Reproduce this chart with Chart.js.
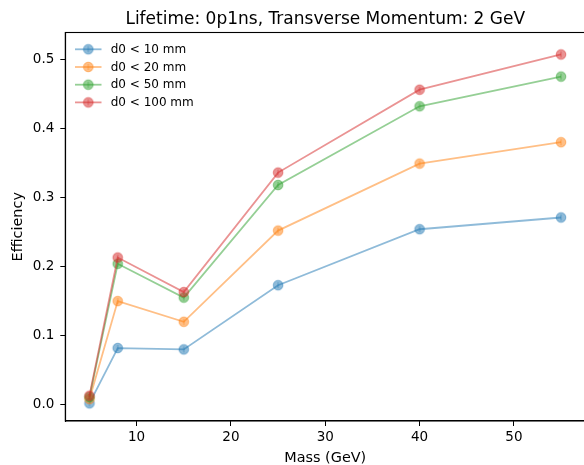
<!DOCTYPE html>
<html>
<head>
<meta charset="utf-8">
<script src="https://cdn.jsdelivr.net/npm/chart.js@4/dist/chart.umd.min.js"></script>
<style>
  html, body { margin: 0; padding: 0; background: #fff; overflow: hidden; }
  #wrap { position: relative; width: 592px; height: 465px; }
</style>
</head>
<body>
<div id="wrap"><canvas id="c" width="592" height="465"></canvas></div>
<script>
// Signal masses (GeV) and reconstruction efficiency for each d0 cut
const masses = [5, 8, 15, 25, 40, 55];
const seriesNames = ['d0 < 10 mm', 'd0 < 20 mm', 'd0 < 50 mm', 'd0 < 100 mm'];
const effD0lt10  = [0.002, 0.082, 0.080, 0.173, 0.254, 0.271];
const effD0lt20  = [0.008, 0.150, 0.120, 0.252, 0.349, 0.380];
const effD0lt50  = [0.011, 0.204, 0.155, 0.318, 0.432, 0.475];
const effD0lt100 = [0.013, 0.213, 0.163, 0.336, 0.456, 0.507];
const xTickValues = [10, 20, 30, 40, 50];
const yTickValues = [0.0, 0.1, 0.2, 0.3, 0.4, 0.5];

const FONT = "'DejaVu Sans', 'Liberation Sans', sans-serif";
const palette = [[31, 119, 180], [255, 127, 14], [44, 160, 44], [214, 39, 40]];
const rgba = (c, a) => `rgba(${c[0]},${c[1]},${c[2]},${a})`;

// circle marker with a small error-bar tick through it
function makeMarker(c) {
  const cv = document.createElement('canvas');
  cv.width = 14; cv.height = 14;
  const g = cv.getContext('2d');
  g.beginPath();
  g.arc(7, 7, 4.8, 0, Math.PI * 2);
  g.fillStyle = rgba(c, 0.5);
  g.fill();
  g.lineWidth = 1;
  g.strokeStyle = rgba(c, 0.5);
  g.stroke();
  g.beginPath();
  g.moveTo(7, 4); g.lineTo(7, 10);
  g.stroke();
  return cv;
}

const seriesValues = [effD0lt10, effD0lt20, effD0lt50, effD0lt100];
const markers = palette.map(makeMarker);

const datasets = seriesValues.map((vals, i) => ({
  label: seriesNames[i],
  data: masses.map((m, k) => ({ x: m, y: vals[k] })),
  borderColor: rgba(palette[i], 0.5),
  backgroundColor: rgba(palette[i], 0.5),
  borderWidth: 1.8,
  pointStyle: markers[i],
  pointRadius: 5,
  tension: 0,
  order: seriesValues.length - i
}));

// closed axes frame (top and right spines too)
const framePlugin = {
  id: 'frame',
  afterDraw(chart) {
    const { ctx, chartArea: a } = chart;
    ctx.save();
    ctx.strokeStyle = '#000';
    ctx.lineWidth = 1.1;
    ctx.strokeRect(a.left, a.top, a.right - a.left, a.bottom - a.top);
    ctx.restore();
  }
};

// legend in the upper-left corner of the plot area
const innerLegend = {
  id: 'innerLegend',
  afterDraw(chart) {
    const { ctx } = chart;
    const x0 = 75, x1 = 101.5, xm = 88.3, xt = 110.7;
    ctx.save();
    chart.data.datasets.forEach((ds, i) => {
      const y = 49.3 + i * 17.7;
      ctx.strokeStyle = ds.borderColor;
      ctx.lineWidth = 1.8;
      ctx.beginPath();
      ctx.moveTo(x0, y); ctx.lineTo(x1, y);
      ctx.stroke();
      ctx.drawImage(ds.pointStyle, xm - 7, y - 7);
      ctx.fillStyle = '#000';
      ctx.font = `12px ${FONT}`;
      ctx.textBaseline = 'middle';
      ctx.textAlign = 'left';
      ctx.fillText(ds.label, xt, y + 0.5);
    });
    ctx.restore();
  }
};

new Chart(document.getElementById('c'), {
  type: 'line',
  data: { datasets },
  options: {
    responsive: false,
    animation: false,
    events: [],
    layout: { padding: { top: 0, left: 0, right: 6.3, bottom: 0 } },
    plugins: {
      legend: { display: false },
      tooltip: { enabled: false },
      title: {
        display: true,
        fullSize: false,
        text: 'Lifetime: 0p1ns, Transverse Momentum: 2 GeV',
        color: '#000',
        font: { family: FONT, size: 17, weight: 'normal', lineHeight: 1.2 },
        padding: { top: 9.5, bottom: 2.6 }
      }
    },
    scales: {
      x: {
        type: 'linear',
        min: 2.44,
        max: 57.56,
        afterFit(s) { s.height = 44; },
        afterBuildTicks(s) { s.ticks = xTickValues.map(v => ({ value: v })); },
        ticks: {
          includeBounds: false,
          color: '#000',
          font: { family: FONT, size: 13.5 },
          padding: 3.5,
          maxRotation: 0,
          callback: v => String(v)
        },
        grid: { drawOnChartArea: false, drawTicks: true, tickLength: 5, color: '#000', lineWidth: 1 },
        border: { display: true, color: '#000', width: 1.1 },
        title: {
          display: true,
          text: 'Mass (GeV)',
          color: '#000',
          font: { family: FONT, size: 14.4, lineHeight: 1.0 },
          padding: { top: 0, bottom: 0 }
        }
      },
      y: {
        type: 'linear',
        min: -0.0236,
        max: 0.5388,
        afterFit(s) { s.width = 65.3; },
        afterBuildTicks(s) { s.ticks = yTickValues.map(v => ({ value: v })); },
        ticks: {
          includeBounds: false,
          color: '#000',
          font: { family: FONT, size: 13.5 },
          padding: 6,
          callback: v => Number(v).toFixed(1)
        },
        grid: { drawOnChartArea: false, drawTicks: true, tickLength: 5, color: '#000', lineWidth: 1 },
        border: { display: true, color: '#000', width: 1.1 },
        title: {
          display: true,
          text: 'Efficiency',
          color: '#000',
          font: { family: FONT, size: 14.4, lineHeight: 1.2 },
          padding: { top: 10, bottom: 0 }
        }
      }
    }
  },
  plugins: [framePlugin, innerLegend]
});
</script>
</body>
</html>
